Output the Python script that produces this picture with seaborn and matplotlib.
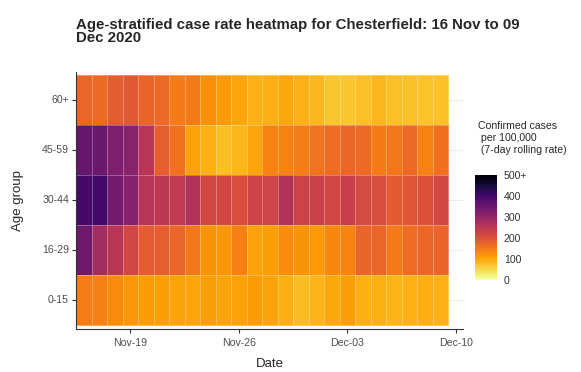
import matplotlib
matplotlib.use("Agg")
import matplotlib.pyplot as plt
import pandas as pd
import seaborn as sns

dates = pd.date_range("2020-11-16", "2020-12-09", freq="D")
age_groups = ["60+", "45-59", "30-44", "16-29", "0-15"]

rate_60_plus = [170, 165, 185, 190, 172, 165, 145, 148, 122, 113, 98, 86,
                88, 97, 86, 82, 68, 65, 73, 82, 74, 72, 70, 72]
rate_45_59 = [355, 350, 325, 313, 255, 180, 157, 104, 88, 75, 83, 100,
              138, 138, 143, 155, 163, 168, 165, 145, 152, 165, 138, 160]
rate_30_44 = [395, 400, 340, 315, 255, 248, 243, 263, 215, 218, 207, 223,
              222, 262, 225, 227, 217, 232, 212, 207, 187, 195, 200, 213]
rate_16_29 = [345, 280, 250, 217, 185, 182, 170, 150, 118, 117, 140, 104,
              107, 125, 118, 113, 132, 135, 172, 170, 147, 163, 168, 173]
rate_0_15 = [143, 140, 127, 115, 110, 107, 103, 100, 108, 103, 105, 110,
             102, 90, 77, 85, 97, 108, 88, 89, 85, 87, 90, 87]

tick_dates = pd.to_datetime(["2020-11-19", "2020-11-26", "2020-12-03", "2020-12-10"])
cbar_ticks = [0, 100, 200, 300, 400, 500]
cbar_labels = ["0", "100", "200", "300", "400", "500+"]

sns.set_style("white")
plt.rcParams["font.family"] = ["Liberation Sans", "DejaVu Sans"]

data = pd.DataFrame(
    [rate_60_plus, rate_45_59, rate_30_44, rate_16_29, rate_0_15],
    index=age_groups,
    columns=dates.strftime("%Y-%m-%d"),
)

W, H = 581, 372
fig = plt.figure(figsize=(W / 100, H / 100), dpi=100)
# panel: tiles span y 75..325.5, small gap to the axis lines
ax = fig.add_axes([76 / W, 1 - 329 / H, (463 - 76) / W, 257.5 / H])
cax = fig.add_axes([475 / W, 1 - 279.5 / H, 22 / W, 104.5 / H])

sns.heatmap(
    data, ax=ax, cbar_ax=cax, cmap="inferno_r", vmin=0, vmax=500,
    linewidths=0.6, linecolor=(1, 1, 1, 0.3),
)

ax.set_xlim(0, 24.95)
ax.set_ylim(5.07, -0.07)
ax.set_xticks([(d - dates[0]).days + 0.5 for d in tick_dates])
ax.set_xticklabels([d.strftime("%b-%d") for d in tick_dates], rotation=0)
ax.set_yticks([i + 0.5 for i in range(len(age_groups))])
ax.set_yticklabels(age_groups, rotation=0)
ax.tick_params(axis="both", length=3, width=0.8, color="#333333",
               labelsize=7.6, labelcolor="#4d4d4d", bottom=True, left=True)
ax.tick_params(axis="x", pad=3.5)
ax.tick_params(axis="y", pad=2)
ax.yaxis.grid(True, color="#ebebeb", linewidth=0.8)
ax.set_axisbelow(True)
for side in ["top", "right"]:
    ax.spines[side].set_visible(False)
for side in ["left", "bottom"]:
    ax.spines[side].set_visible(True)
    ax.spines[side].set_color("#333333")
    ax.spines[side].set_linewidth(0.8)
ax.set_xlabel("Date", fontsize=9.5, labelpad=7)
ax.set_ylabel("Age group", fontsize=9.5, labelpad=13)

cbar = ax.collections[0].colorbar
cbar.outline.set_visible(False)
cbar.set_ticks(cbar_ticks)
cbar.set_ticklabels(cbar_labels)
cax.tick_params(direction="in", color="white", length=4, width=0.6,
                left=True, right=True, labelsize=7.6, labelcolor="#333333", pad=5)

fig.text(478 / W, 1 - 121 / H,
         "Confirmed cases\n per 100,000\n (7-day rolling rate)",
         fontsize=7.6, va="top", ha="left", linespacing=1.28)

fig.text(76 / W, 1 - 17.5 / H,
         "Age-stratified case rate heatmap for Chesterfield: 16 Nov to 09\nDec 2020",
         fontsize=10.8, fontweight="bold", va="top", ha="left", linespacing=0.95)

fig.savefig("out.png", dpi=100)
